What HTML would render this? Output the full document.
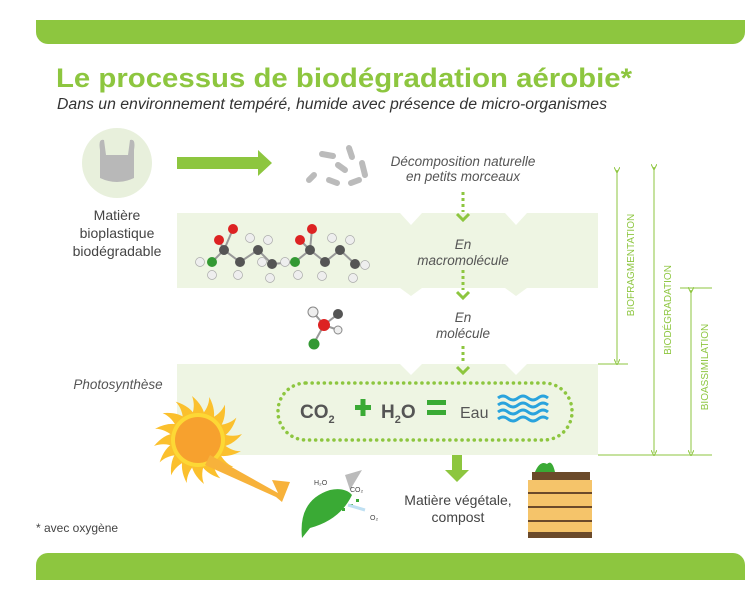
<!DOCTYPE html>
<html><head><meta charset="utf-8"><style>
body{margin:0;background:#fff;width:754px;height:595px;overflow:hidden}
svg{display:block;font-family:"Liberation Sans",sans-serif}
</style></head><body>
<svg width="754" height="595" viewBox="0 0 754 595">
<defs><marker id="ah" markerWidth="6" markerHeight="6" refX="3" refY="3" orient="auto"><path d="M0,0 L6,3 L0,6" fill="none" stroke="#8dc63f" stroke-width="1"/></marker>
<path id="ray" d="M-7,-22 Q-2,-34 -6,-44 Q6,-34 7,-22Z" fill="#fbc02d"/></defs>
<!-- bars -->
<path d="M36,20 H745 V32 A12,12 0 0 1 733,44 H48 A12,12 0 0 1 36,32 Z" fill="#8dc63f"/>
<path d="M36,580 V565 A12,12 0 0 1 48,553 H733 A12,12 0 0 1 745,565 V580 Z" fill="#8dc63f"/>
<text x="56" y="87" font-size="27" font-weight="bold" fill="#8dc63f" textLength="576" lengthAdjust="spacingAndGlyphs">Le processus de biodégradation aérobie*</text>
<text x="57" y="109" font-size="15.5" font-style="italic" fill="#333" textLength="550" lengthAdjust="spacingAndGlyphs">Dans un environnement tempéré, humide avec présence de micro-organismes</text>
<!-- bands -->
<path d="M177,213 H400 L411,225 L422,213 H505 L516,225 L527,213 H598 V288 H527 L516,296 L505,288 H422 L411,296 L400,288 H177 Z" fill="#eef5e3"/>
<path d="M177,364 H400 L411,375 L422,364 H505 L516,375 L527,364 H598 V455 H177 Z" fill="#eef5e3"/>
<!-- bag -->
<circle cx="117" cy="163" r="35" fill="#e8f0dc"/>
<path d="M100,150 Q98,138 104,140 L106,155 H128 L130,140 Q136,138 134,150 L134,178 Q117,186 100,178 Z" fill="#b8b8b8"/>
<g font-size="14" fill="#444" text-anchor="middle"><text x="117" y="220">Matière</text><text x="117" y="238">bioplastique</text><text x="117" y="256">biodégradable</text></g>
<!-- big arrow -->
<path d="M177,157 H258 V150 L272,163 L258,176 V169 H177 Z" fill="#8dc63f"/>
<!-- pieces -->
<g stroke="#bbb" stroke-width="6" stroke-linecap="round"><line x1="322" y1="154" x2="333" y2="156"/><line x1="349" y1="148" x2="352" y2="157"/><line x1="338" y1="165" x2="345" y2="170"/><line x1="362" y1="163" x2="365" y2="175"/><line x1="309" y1="180" x2="314" y2="175"/><line x1="329" y1="180" x2="337" y2="183"/><line x1="351" y1="183" x2="359" y2="180"/></g>
<g font-size="13.5" font-style="italic" fill="#555" text-anchor="middle"><text x="463" y="166">Décomposition naturelle</text><text x="463" y="181">en petits morceaux</text>
<text x="463" y="249">En</text><text x="463" y="265">macromolécule</text><text x="463" y="322">En</text><text x="463" y="338">molécule</text>
<text x="118" y="389">Photosynthèse</text></g>
<!-- dotted arrows -->
<g stroke="#8dc63f" stroke-width="3" fill="none"><line x1="463" y1="192" x2="463" y2="212" stroke-dasharray="3,3"/><path d="M457,214 L463,220 L469,214"/>
<line x1="463" y1="270" x2="463" y2="290" stroke-dasharray="3,3"/><path d="M457,292 L463,298 L469,292"/>
<line x1="463" y1="346" x2="463" y2="364" stroke-dasharray="3,3"/><path d="M457,367 L463,373 L469,367"/></g>
<!-- molecule -->
<g stroke="#999" stroke-width="2" fill="none"><path d="M212,262 L224,250 L240,262 L258,250 L272,264 L295,262 L310,250 L325,262 L340,250 L355,264"/><line x1="224" y1="250" x2="219" y2="240"/><line x1="224" y1="250" x2="233" y2="229"/><line x1="310" y1="250" x2="312" y2="229"/><line x1="310" y1="250" x2="300" y2="240"/></g>
<g><circle cx="233" cy="229" r="5" fill="#d22"/><circle cx="219" cy="240" r="5" fill="#d22"/><circle cx="312" cy="229" r="5" fill="#d22"/><circle cx="300" cy="240" r="5" fill="#d22"/>
<circle cx="212" cy="262" r="5" fill="#393"/><circle cx="295" cy="262" r="5" fill="#393"/>
<g fill="#555"><circle cx="224" cy="250" r="5"/><circle cx="240" cy="262" r="5"/><circle cx="258" cy="250" r="5"/><circle cx="272" cy="264" r="5"/><circle cx="310" cy="250" r="5"/><circle cx="325" cy="262" r="5"/><circle cx="340" cy="250" r="5"/><circle cx="355" cy="264" r="5"/></g>
<g fill="#eee" stroke="#aaa" stroke-width=".7"><circle cx="200" cy="262" r="4.5"/><circle cx="212" cy="275" r="4.5"/><circle cx="238" cy="275" r="4.5"/><circle cx="250" cy="238" r="4.5"/><circle cx="268" cy="240" r="4.5"/><circle cx="262" cy="262" r="4.5"/><circle cx="270" cy="278" r="4.5"/><circle cx="285" cy="262" r="4.5"/><circle cx="298" cy="275" r="4.5"/><circle cx="322" cy="276" r="4.5"/><circle cx="332" cy="238" r="4.5"/><circle cx="350" cy="240" r="4.5"/><circle cx="365" cy="265" r="4.5"/><circle cx="353" cy="278" r="4.5"/></g></g>
<!-- small molecule -->
<g stroke="#999" stroke-width="2"><line x1="313" y1="312" x2="324" y2="325"/><line x1="324" y1="325" x2="338" y2="314"/><line x1="324" y1="325" x2="338" y2="330"/><line x1="324" y1="325" x2="314" y2="343"/></g>
<circle cx="313" cy="312" r="5" fill="#eee" stroke="#888"/><circle cx="338" cy="314" r="5" fill="#555"/><circle cx="338" cy="330" r="4" fill="#eee" stroke="#888"/><circle cx="324" cy="325" r="6" fill="#d22"/><circle cx="314" cy="344" r="5.5" fill="#393"/>
<!-- dotted rounded rect -->
<rect x="278" y="383" width="294" height="57" rx="28" fill="none" stroke="#8dc63f" stroke-width="3.5" stroke-dasharray="0.1,6" stroke-linecap="round"/>
<g font-weight="bold" fill="#555"><text x="300" y="418" font-size="19">CO<tspan font-size="11" dy="5">2</tspan></text><text x="381" y="418" font-size="19">H<tspan font-size="11" dy="5">2</tspan><tspan dy="-5">O</tspan></text></g>
<rect x="355" y="405" width="16" height="5" fill="#3aaa35"/><rect x="360.5" y="399" width="5" height="17" fill="#3aaa35"/>
<rect x="427" y="400" width="19" height="5" fill="#3aaa35"/><rect x="427" y="410" width="19" height="5" fill="#3aaa35"/>
<text x="460" y="418" font-size="16" fill="#555">Eau</text>
<g stroke="#29a3dd" stroke-width="3" fill="none"><path id="w" d="M498,398 q5,-4 10,0 t10,0 t10,0 t10,0 t10,0"/><use href="#w" y="7"/><use href="#w" y="14"/><use href="#w" y="21"/></g>
<!-- sun -->
<g transform="translate(198,440)">
<use href="#ray"/><use href="#ray" transform="rotate(22.5)"/><use href="#ray" transform="rotate(45)"/><use href="#ray" transform="rotate(67.5)"/><use href="#ray" transform="rotate(90)"/><use href="#ray" transform="rotate(112.5)"/><use href="#ray" transform="rotate(135)"/><use href="#ray" transform="rotate(157.5)"/><use href="#ray" transform="rotate(180)"/><use href="#ray" transform="rotate(202.5)"/><use href="#ray" transform="rotate(225)"/><use href="#ray" transform="rotate(247.5)"/><use href="#ray" transform="rotate(270)"/><use href="#ray" transform="rotate(292.5)"/><use href="#ray" transform="rotate(315)"/><use href="#ray" transform="rotate(337.5)"/>
<circle r="27" fill="#fdd835"/><circle r="23" fill="#f7a12e"/></g>
<path d="M210,455 L278,493 L272,480 L290,482 L282,502 L276,497 L205,465Z" fill="#f7b23b"/>
<!-- leaf -->
<path d="M302,538 Q298,500 330,490 Q345,487 352,495 Q340,520 310,528 Z" fill="#3aaa35"/>
<g fill="#3aaa35"><rect x="338" y="503" width="3" height="3"/><rect x="344" y="500" width="3" height="3"/><rect x="350" y="504" width="3" height="3"/><rect x="342" y="508" width="3" height="3"/><rect x="356" y="499" width="3" height="3"/></g>
<path d="M345,475 L362,470 L350,490Z" fill="#bbb"/>
<path d="M348,505 L365,510" stroke="#bfe0f2" stroke-width="3"/>
<g font-size="7" fill="#444"><text x="314" y="485">H₂O</text><text x="350" y="492">CO₂</text><text x="370" y="520">O₂</text></g>
<!-- down arrow -->
<path d="M452,455 h10 v15 h7 l-12,12 l-12,-12 h7z" fill="#8dc63f"/>
<g font-size="14" fill="#444" text-anchor="middle"><text x="458" y="505">Matière végétale,</text><text x="458" y="522">compost</text></g>
<!-- crate -->
<path d="M535,472 q5,-12 12,-8 q5,-5 8,8 z" fill="#3aaa35"/>
<rect x="532" y="472" width="58" height="10" fill="#6b4a2a"/>
<rect x="528" y="480" width="64" height="56" fill="#f5c46a"/>
<g stroke="#6b4a2a" stroke-width="2"><line x1="528" y1="493" x2="592" y2="493"/><line x1="528" y1="507" x2="592" y2="507"/><line x1="528" y1="521" x2="592" y2="521"/></g>
<rect x="528" y="532" width="64" height="6" fill="#6b4a2a"/>
<text x="36" y="532" font-size="12" fill="#444">* avec oxygène</text>
<!-- right scale -->
<g stroke="#8dc63f" stroke-width="1"><line x1="617" y1="170" x2="617" y2="362" marker-start="url(#ah)" marker-end="url(#ah)"/><line x1="654" y1="167" x2="654" y2="453" marker-start="url(#ah)" marker-end="url(#ah)"/><line x1="691" y1="290" x2="691" y2="453" marker-start="url(#ah)" marker-end="url(#ah)"/>
<line x1="598" y1="364" x2="628" y2="364"/><line x1="680" y1="288" x2="712" y2="288"/><line x1="598" y1="455" x2="712" y2="455"/></g>
<g font-size="10" fill="#8dc63f" text-anchor="middle"><text transform="translate(634,265) rotate(-90)">BIOFRAGMENTATION</text><text transform="translate(671,310) rotate(-90)">BIODÉGRADATION</text><text transform="translate(708,367) rotate(-90)">BIOASSIMILATION</text></g>
</svg>
</body></html>
